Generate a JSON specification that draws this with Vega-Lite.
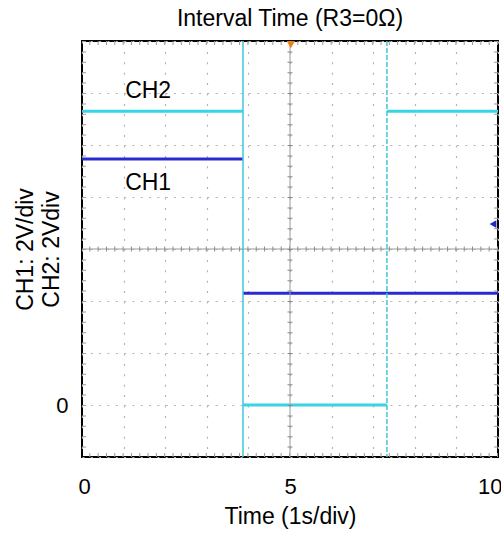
{
  "$schema": "https://vega.github.io/schema/vega-lite/v6.json",
  "autosize": {"type": "none"},
  "width": 416,
  "height": 416,
  "padding": {"left": 82, "top": 41, "right": 3, "bottom": 81},
  "background": "white",
  "title": {"text": "Interval Time (R3=0Ω)", "fontSize": 23, "font": "Liberation Sans", "fontWeight": "normal", "color": "black", "offset": 8},
  "config": {"view": {"stroke": "black", "strokeWidth": 2}, "font": "Liberation Sans"},
  "datasets": {
    "traces": [
      {"channel": "CH2", "t0": 0, "t1": 3.87, "level": 5.65},
      {"channel": "CH2", "t0": 3.87, "t1": 7.33, "level": 0},
      {"channel": "CH2", "t0": 7.33, "t1": 10, "level": 5.65},
      {"channel": "CH1", "t0": 0, "t1": 3.87, "level": 4.73},
      {"channel": "CH1", "t0": 3.87, "t1": 10, "level": 2.15}
    ],
    "names": [
      {"channel": "CH2", "t0": 1.59, "level": 6.04},
      {"channel": "CH1", "t0": 1.59, "level": 4.27}
    ],
    "one": [{}]
  },
  "layer": [
    {
      "data": {"name": "traces"},
      "mark": {"type": "rule", "strokeWidth": 3},
      "encoding": {
        "x": {"field": "t0", "type": "quantitative",
          "scale": {"domain": [0, 10], "nice": false, "zero": false},
          "axis": {"title": "Time (1s/div)", "values": [0,1,2,3,4,5,6,7,8,9,10],
            "labelExpr": "datum.value % 5 === 0 ? datum.label : ''",
            "labelFlush": true, "labelFlushOffset": 4, "ticks": false, "domain": false,
            "grid": true, "gridDash": [2, 8.4], "gridColor": "#b4b4b4", "gridWidth": 1.2,
            "labelFontSize": 22, "labelColor": "black", "labelPadding": 19, "labelFont": "Liberation Sans",
            "titleFontSize": 23, "titleFontWeight": "normal", "titleColor": "black", "titlePadding": 8, "titleFont": "Liberation Sans"}},
        "x2": {"field": "t1"},
        "y": {"field": "level", "type": "quantitative",
          "scale": {"domain": [-1, 7], "nice": false, "zero": false},
          "axis": {"title": ["CH1: 2V/div", "CH2: 2Vdiv"], "values": [-1,0,1,2,3,4,5,6,7],
            "labelExpr": "datum.value === 0 ? '0' : ''",
            "ticks": false, "domain": false,
            "grid": true, "gridDash": [2, 6.32], "gridColor": "#b4b4b4", "gridWidth": 1.2,
            "labelFontSize": 22, "labelColor": "black", "labelPadding": 14, "labelFont": "Liberation Sans",
            "titleFontSize": 23, "titleFontWeight": "normal", "titleColor": "black", "titleLineHeight": 26,
            "titleX": -50, "titleBaseline": "alphabetic", "titleFont": "Liberation Sans"}},
        "color": {"field": "channel", "type": "nominal",
          "scale": {"domain": ["CH1", "CH2"], "range": ["#2a2ad2", "#38d4e4"]}, "legend": null}
      }
    },
    {
      "data": {"name": "one"},
      "mark": {"type": "rule", "color": "#9a9a9a", "strokeWidth": 1},
      "encoding": {"y": {"datum": 3, "type": "quantitative"}}
    },
    {
      "data": {"name": "one"},
      "mark": {"type": "rule", "color": "#8a8a8a", "strokeWidth": 5, "strokeDash": [1, 7.32]},
      "encoding": {"y": {"datum": 3, "type": "quantitative"}}
    },
    {
      "data": {"name": "one"},
      "mark": {"type": "rule", "color": "#9a9a9a", "strokeWidth": 1},
      "encoding": {"x": {"datum": 5, "type": "quantitative"}}
    },
    {
      "data": {"name": "one"},
      "mark": {"type": "rule", "color": "#8a8a8a", "strokeWidth": 5, "strokeDash": [1, 9.4]},
      "encoding": {"x": {"datum": 5, "type": "quantitative"}}
    },
    {
      "data": {"name": "one"},
      "mark": {"type": "rule", "color": "#9a9a9a", "strokeWidth": 4, "strokeDash": [1, 7.32]},
      "encoding": {"y": {"datum": 6.96, "type": "quantitative"}}
    },
    {
      "data": {"name": "one"},
      "mark": {"type": "rule", "color": "#9a9a9a", "strokeWidth": 4, "strokeDash": [1, 7.32]},
      "encoding": {"y": {"datum": -0.96, "type": "quantitative"}}
    },
    {
      "data": {"name": "one"},
      "mark": {"type": "rule", "color": "#9a9a9a", "strokeWidth": 4, "strokeDash": [1, 9.4]},
      "encoding": {"x": {"datum": 0.048, "type": "quantitative"}}
    },
    {
      "data": {"name": "one"},
      "mark": {"type": "rule", "color": "#9a9a9a", "strokeWidth": 4, "strokeDash": [1, 9.4]},
      "encoding": {"x": {"datum": 9.952, "type": "quantitative"}}
    },
    {
      "data": {"name": "one"},
      "mark": {"type": "rule", "color": "#40c8d8", "strokeWidth": 1.5},
      "encoding": {"x": {"datum": 3.87, "type": "quantitative"}}
    },
    {
      "data": {"name": "one"},
      "mark": {"type": "rule", "color": "#40c8d8", "strokeWidth": 1.5, "strokeDash": [5, 2]},
      "encoding": {"x": {"datum": 7.33, "type": "quantitative"}}
    },
    {
      "data": {"name": "one"},
      "mark": {"type": "point", "shape": "triangle-down", "filled": true, "size": 70, "color": "#f07f1a", "opacity": 1},
      "encoding": {"x": {"datum": 5.02, "type": "quantitative"}, "y": {"datum": 6.93, "type": "quantitative"}}
    },
    {
      "data": {"name": "one"},
      "mark": {"type": "point", "shape": "triangle-left", "filled": true, "size": 60, "color": "#2424c8", "opacity": 1},
      "encoding": {"x": {"datum": 9.88, "type": "quantitative"}, "y": {"datum": 3.48, "type": "quantitative"}}
    },
    {
      "data": {"name": "names"},
      "mark": {"type": "text", "fontSize": 23, "font": "Liberation Sans", "color": "black", "align": "center", "baseline": "middle"},
      "encoding": {
        "x": {"field": "t0", "type": "quantitative"},
        "y": {"field": "level", "type": "quantitative"},
        "text": {"field": "channel"}
      }
    }
  ]
}
